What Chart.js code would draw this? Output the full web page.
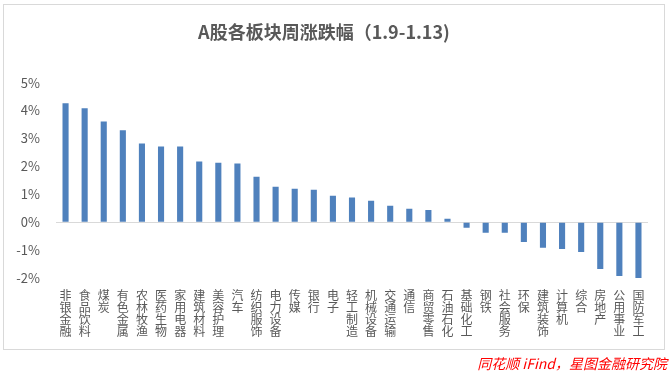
<!DOCTYPE html>
<html>
<head>
<meta charset="utf-8">
<script src="https://cdn.jsdelivr.net/npm/chart.js@4.4.1/dist/chart.umd.min.js"></script>
<style>
    body { margin: 0; background: #fff; }
    #wrap { position: relative; width: 672px; height: 372px; }
    #frame { position: absolute; left: 3px; top: 4px; width: 660px; height: 344px; border: 1px solid #d9d9d9; pointer-events: none; }
    #source { position: absolute; right: 5px; top: 353px; font: italic 14px "Noto Sans CJK SC", sans-serif; color: #ff0000; }
</style>
</head>
<body>
<div id="wrap">
    <canvas id="chart" width="672" height="372"></canvas>
    <div id="frame"></div>
    <div id="source">同花顺 iFind，星图金融研究院</div>
</div>
<script>
    // 申万一级行业
    const sectors = ["非银金融", "食品饮料", "煤炭", "有色金属", "农林牧渔", "医药生物", "家用电器", "建筑材料",
        "美容护理", "汽车", "纺织服饰", "电力设备", "传媒", "银行", "电子", "轻工制造", "机械设备", "交通运输",
        "通信", "商贸零售", "石油石化", "基础化工", "钢铁", "社会服务", "环保", "建筑装饰", "计算机", "综合",
        "房地产", "公用事业", "国防军工"];
    // 周涨跌幅 %
    const weekChange = [4.26, 4.08, 3.61, 3.29, 2.82, 2.71, 2.71, 2.17, 2.13, 2.10, 1.63, 1.27, 1.20, 1.16, 0.95,
        0.88, 0.77, 0.59, 0.48, 0.44, 0.12, -0.20, -0.38, -0.38, -0.71, -0.92, -0.96, -1.07, -1.68, -1.93, -2.03];
    const yTicks = [5, 4, 3, 2, 1, 0, -1, -2];

    const ctx = document.getElementById("chart");
    new Chart(ctx, {
        type: "bar",
        data: {
            // stack the characters vertically like the excel chart
            labels: sectors.map(function (s) { return s.split(""); }),
            datasets: [{
                data: weekChange,
                backgroundColor: "#4f81bd",
                barPercentage: 0.32,
                categoryPercentage: 1
            }]
        },
        options: {
            responsive: false,
            animation: false,
            layout: { padding: { left: 0, right: 24, top: 0, bottom: 0 } },
            plugins: {
                legend: { display: false },
                tooltip: { enabled: false },
                title: {
                    display: true,
                    text: "A股各板块周涨跌幅（1.9-1.13)",
                    color: "#595959",
                    font: { family: "'Noto Sans CJK SC', sans-serif", size: 18, weight: "bold", lineHeight: 1.2 },
                    padding: { top: 21, bottom: 40 }
                }
            },
            scales: {
                x: {
                    grid: { display: false, drawTicks: false },
                    border: { display: false },
                    ticks: {
                        autoSkip: false,
                        maxRotation: 0,
                        minRotation: 0,
                        padding: 12,
                        color: "#595959",
                        font: { family: "'Noto Sans CJK SC', sans-serif", size: 12, lineHeight: 0.98 }
                    },
                    afterFit: function (scale) { scale.height = 94; }
                },
                y: {
                    min: Math.min.apply(null, yTicks),
                    max: Math.max.apply(null, yTicks),
                    border: { display: false },
                    grid: {
                        drawTicks: false,
                        color: function (c) { return c.tick && c.tick.value === 0 ? "#d9d9d9" : "rgba(0,0,0,0)"; }
                    },
                    ticks: {
                        stepSize: 1,
                        padding: 16,
                        color: "#595959",
                        font: { family: "'Noto Sans CJK SC', sans-serif", size: 13 },
                        callback: function (v) { return v + "%"; }
                    },
                    afterFit: function (scale) { scale.width = 56; }
                }
            }
        }
    });
</script>
</body>
</html>
